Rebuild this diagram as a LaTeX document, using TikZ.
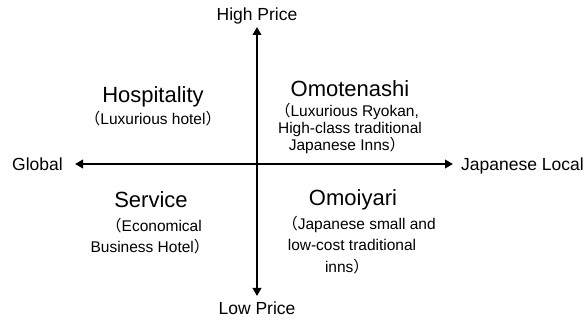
\documentclass[tikz,border=0pt]{standalone}
\usepackage{fontspec}
\setmainfont{Liberation Sans}
\newfontfamily\cjk{Noto Sans CJK JP}
\usetikzlibrary{arrows.meta}
\newcommand\jlp{{\cjk （}}
\newcommand\jrp{{\cjk ）}}
\tikzset{
  axislabel/.style={inner sep=0pt, font=\fontsize{17.5}{20}\selectfont},
  quadtitle/.style={inner sep=0pt, anchor=base, font=\fontsize{22}{26}\selectfont},
  quaddesc/.style={inner sep=0pt, anchor=base, font=\fontsize{15.5}{18}\selectfont},
  axis/.style={line width=2.6pt, -{Triangle[length=8pt,width=8.5pt]}, shorten >=0pt},
}
\begin{document}
\begin{tikzpicture}[x=1pt,y=-1pt]
\useasboundingbox (0,0) rectangle (587,320);
% axis labels
\node[axislabel, anchor=base] (high) at (257,21) {High Price};
\node[axislabel, anchor=base] (low) at (257,315) {Low Price};
\node[axislabel, anchor=base east] (global) at (63,171) {Global};
\node[axislabel, anchor=base west] (local) at (461,171) {Japanese Local};
% axis end points
\coordinate (top) at (257,27);
\coordinate (bottom) at (257,296);
\coordinate (left) at (75,164);
\coordinate (right) at (453,164);
\coordinate (center) at (257,164);
\draw[axis] (center) -- (top);
\draw[axis] (center) -- (bottom);
\draw[axis] (center) -- (left);
\draw[axis] (center) -- (right);
% upper left
\node[quadtitle] (hosp) at (153,103) {Hospitality};
\node[quaddesc] (hosp1) at (153,125) {\jlp Luxurious hotel\jrp};
% upper right
\node[quadtitle] (omot) at (350,97) {Omotenashi};
\node[quaddesc] (omot1) at (347,117) {\jlp Luxurious Ryokan,};
\node[quaddesc] (omot2) at (350,134) {High-class traditional};
\node[quaddesc] (omot3) at (347,151) {Japanese Inns\jrp};
% lower left
\node[quadtitle] (serv) at (151,208) {Service};
\node[quaddesc] (serv1) at (154,232) {\jlp Economical};
\node[quaddesc] (serv2) at (150,253) {Business Hotel\jrp};
% lower right
\node[quadtitle] (omoi) at (353,206) {Omoiyari};
\node[quaddesc] (omoi1) at (359,230) {\jlp Japanese small and};
\node[quaddesc] (omoi2) at (352,251) {low-cost traditional};
\node[quaddesc] (omoi3) at (347,273) {inns\jrp};
\end{tikzpicture}
\end{document}
